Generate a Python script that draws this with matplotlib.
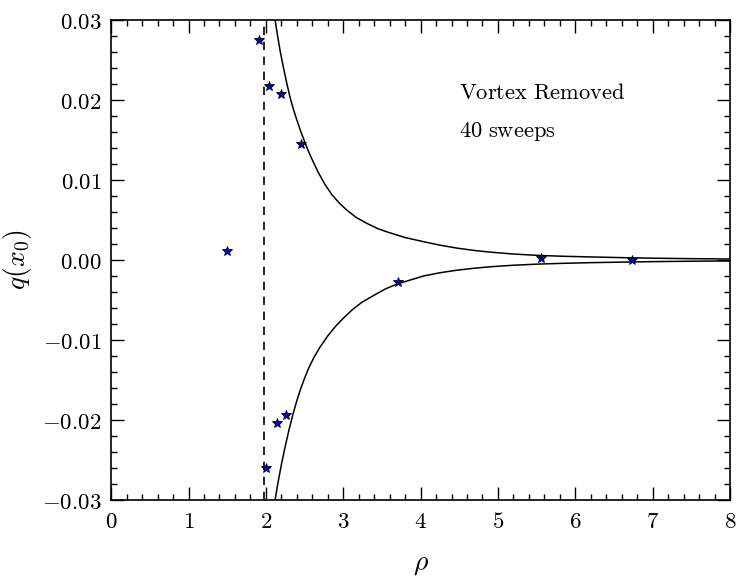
import matplotlib
matplotlib.use("Agg")
import matplotlib.pyplot as plt
from matplotlib.ticker import MultipleLocator, FuncFormatter

plt.rcParams['mathtext.fontset'] = 'cm'

# data points (rho, q)
rho_pts = [1.499, 1.916, 2.007, 2.045, 2.149, 2.200, 2.261, 2.455, 3.712, 5.556, 6.731]
q_pts = [0.0011, 0.0275, -0.0260, 0.0218, -0.0204, 0.0207, -0.0194, 0.0145, -0.0028, 0.0002, 0.0000]

# upper envelope curve
rho_up = [2.10, 2.119, 2.15, 2.183, 2.226, 2.27, 2.313, 2.36, 2.40, 2.45, 2.50, 2.55, 2.60,
          2.68, 2.76, 2.85, 2.95, 3.05, 3.17, 3.30, 3.45, 3.60, 3.80, 4.03, 4.25, 4.47,
          4.70, 4.90, 5.20, 5.54, 5.85, 6.19, 6.60, 7.00, 7.50, 8.00]
q_up = [0.0315, 0.0300, 0.0281, 0.0262, 0.0241, 0.0221, 0.0203, 0.0187, 0.0175, 0.0161, 0.0148,
        0.0136, 0.0125, 0.0109, 0.0095, 0.0082, 0.0071, 0.0062, 0.0053, 0.0046, 0.0039, 0.0034,
        0.0028, 0.0023, 0.00185, 0.00148, 0.00118, 0.00098, 0.00074, 0.00056, 0.00046, 0.00038,
        0.00029, 0.00022, 0.00016, 0.00012]

# lower envelope curve
rho_lo = [2.10, 2.119, 2.15, 2.20, 2.25, 2.30, 2.35, 2.40, 2.45, 2.50, 2.55, 2.62, 2.70,
          2.80, 2.90, 3.00, 3.12, 3.24, 3.40, 3.55, 3.70, 3.87, 4.04, 4.25, 4.47, 4.70,
          4.90, 5.20, 5.54, 5.85, 6.19, 6.60, 7.00, 7.50, 8.00]
q_lo = [-0.0312, -0.0300, -0.0282, -0.0256, -0.0233, -0.0212, -0.0193, -0.0176, -0.0161,
        -0.0148, -0.0136, -0.0122, -0.0109, -0.0095, -0.0083, -0.0073, -0.0062, -0.0053,
        -0.0044, -0.0036, -0.0030, -0.0025, -0.0020, -0.0016, -0.00128, -0.00103, -0.00085,
        -0.00066, -0.00051, -0.00042, -0.00034, -0.00027, -0.00021, -0.00016, -0.00012]

rho_c = 1.97
xticks = [0, 1, 2, 3, 4, 5, 6, 7, 8]
yticks = [-0.03, -0.02, -0.01, 0.0, 0.01, 0.02, 0.03]

fig = plt.figure(figsize=(7.46, 5.82), dpi=100)
ax = fig.add_axes([0.149, 0.141, 0.8296, 0.8247])

ax.plot(rho_up, q_up, color='black', lw=1.1)
ax.plot(rho_lo, q_lo, color='black', lw=1.1)
ax.axvline(rho_c, color='black', lw=1.2, ls=(0, (5, 4)))
ax.plot(rho_pts, q_pts, ls='none', marker='*', ms=7.5, mfc='#0000dd', mec='black', mew=0.6)

ax.set_xlim(0, 8)
ax.set_ylim(-0.03, 0.03)
ax.set_xticks(xticks)
ax.set_yticks(yticks)
ax.xaxis.set_minor_locator(MultipleLocator(0.2))
ax.yaxis.set_minor_locator(MultipleLocator(0.002))
ax.xaxis.set_major_formatter(FuncFormatter(lambda v, p: r'$%d$' % round(v)))
ax.yaxis.set_major_formatter(FuncFormatter(lambda v, p: r'$%.2f$' % (0.0 if abs(v) < 1e-12 else v)))
ax.tick_params(which='both', direction='in', top=True, right=True, labelsize=16.5, width=1.0)
ax.tick_params(which='major', length=9.5, pad=7)
ax.tick_params(which='minor', length=4.3)
for s in ax.spines.values():
    s.set_linewidth(1.2)

ax.set_xlabel(r'$\rho$', fontsize=20, labelpad=12)
ax.set_ylabel(r'$q(x_0)$', fontsize=20, labelpad=6)

ax.text(4.5, 0.0209, r'$\mathrm{Vortex\ Removed}$', fontsize=16.2, va='center', ha='left')
ax.text(4.5, 0.0160, r'$\mathrm{40\ sweeps}$', fontsize=16.2, va='center', ha='left')

fig.savefig('out.png', dpi=100)
